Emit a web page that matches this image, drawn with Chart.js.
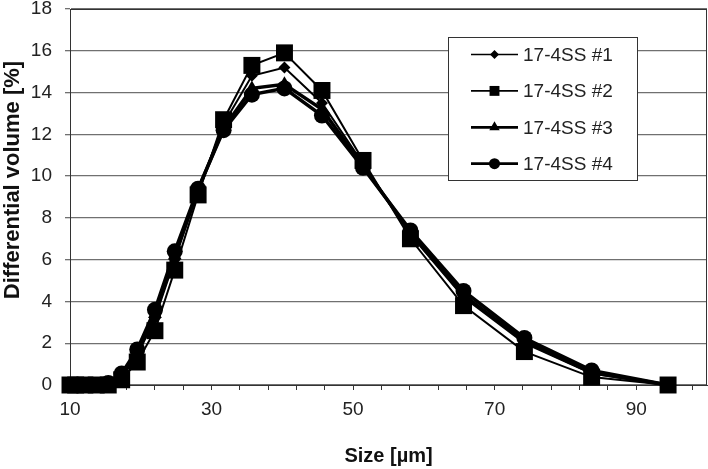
<!DOCTYPE html>
<html>
<head>
<meta charset="utf-8">
<script src="https://cdn.jsdelivr.net/npm/chart.js@4.4.1/dist/chart.umd.min.js"></script>
<style>
  html, body { margin: 0; padding: 0; background: #fff; }
  #wrap { width: 708px; height: 469px; }
</style>
</head>
<body>
<div id="wrap"><canvas id="psd" width="708" height="469"></canvas></div>
<script>
// Particle size distribution of four 17-4SS powder lots
const sizes = [10.0, 10.8, 12.1, 13.7, 15.4, 17.3, 19.5, 22.0, 24.8, 28.1, 31.7, 35.7, 40.3, 45.6, 51.4, 58.1, 65.6, 74.2, 83.7, 94.5];
const lot1 = [0, 0, 0, 0, 0.05, 0.40, 1.40, 3.20, 6.00, 9.30, 12.5, 14.8, 15.2, 13.5, 10.6, 7.20, 4.20, 2.00, 0.55, 0];
const lot2 = [0, 0, 0, 0, 0, 0.25, 1.10, 2.60, 5.50, 9.10, 12.7, 15.3, 15.9, 14.1, 10.75, 7.00, 3.80, 1.60, 0.38, 0];
const lot3 = [0, 0, 0, 0, 0.05, 0.45, 1.50, 3.40, 6.20, 9.35, 12.3, 14.2, 14.4, 13.2, 10.5, 7.30, 4.30, 2.10, 0.60, 0];
const lot4 = [0, 0, 0, 0, 0.10, 0.55, 1.70, 3.60, 6.40, 9.40, 12.2, 13.9, 14.2, 12.9, 10.4, 7.40, 4.50, 2.25, 0.70, 0];
const seriesNames = ['17-4SS #1', '17-4SS #2', '17-4SS #3', '17-4SS #4'];
const xTickValues = [10, 14, 18, 22, 26, 30, 34, 38, 42, 46, 50, 54, 58, 62, 66, 70, 74, 78, 82, 86, 90, 94, 98];
const xTickLabels = [10, 30, 50, 70, 90];
const yTitle = 'Differential volume [%]';

const FONT = "'Liberation Sans', Arial, sans-serif";

const styles = [
    { pointStyle: 'rectRot', radius: 6, lineWidth: 2, legendRadius: 4.5 },
    { pointStyle: 'rect', radius: 12, lineWidth: 2, legendRadius: 7 },
    { pointStyle: 'triangle', radius: 8, lineWidth: 3.5, legendRadius: 6 },
    { pointStyle: 'circle', radius: 8, lineWidth: 3.5, legendRadius: 5.5 }
];

const lots = [lot1, lot2, lot3, lot4];
const datasets = lots.map((vals, i) => ({
    label: seriesNames[i],
    data: vals.map((v, k) => ({ x: sizes[k], y: v })),
    borderColor: '#000',
    backgroundColor: '#000',
    borderWidth: styles[i].lineWidth,
    pointStyle: styles[i].pointStyle,
    pointRadius: styles[i].radius,
    pointBorderWidth: 0,
    tension: 0,
    clip: false,
    order: 4 - i
}));

function drawMarker(ctx, style, r, x, y) {
    ctx.beginPath();
    if (style === 'rect') {
        const s = r * Math.SQRT1_2;
        ctx.rect(x - s, y - s, 2 * s, 2 * s);
    } else if (style === 'rectRot') {
        ctx.moveTo(x, y - r); ctx.lineTo(x + r, y); ctx.lineTo(x, y + r); ctx.lineTo(x - r, y);
        ctx.closePath();
    } else if (style === 'triangle') {
        ctx.moveTo(x, y - r);
        ctx.lineTo(x + r * 0.866, y + r * 0.5);
        ctx.lineTo(x - r * 0.866, y + r * 0.5);
        ctx.closePath();
    } else {
        ctx.arc(x, y, r, 0, Math.PI * 2);
    }
    ctx.fill();
}

// plot frame (top + right edges) and the rotated y title, which sits a bit above centre
const framePlugin = {
    id: 'frame',
    beforeDatasetsDraw(chart) {
        const { ctx, chartArea: a } = chart;
        ctx.save();
        ctx.strokeStyle = '#333';
        ctx.lineWidth = 1;
        ctx.strokeRect(a.left + 0.5, a.top + 0.5, a.right - a.left - 1, a.bottom - a.top);
        ctx.translate(13, 180);
        ctx.rotate(-Math.PI / 2);
        ctx.font = 'bold 22px ' + FONT;
        ctx.fillStyle = '#111';
        ctx.textAlign = 'center';
        ctx.textBaseline = 'middle';
        ctx.fillText(yTitle, 0, 0);
        ctx.restore();
    }
};

const boxLegend = {
    id: 'boxLegend',
    afterDatasetsDraw(chart) {
        const ctx = chart.ctx;
        const bx = 448, by = 37, bw = 189, bh = 143, row = 36.4, first = 17.5;
        ctx.save();
        ctx.fillStyle = '#fff';
        ctx.fillRect(bx, by, bw, bh);
        ctx.strokeStyle = '#333';
        ctx.lineWidth = 1;
        ctx.strokeRect(bx + 0.5, by + 0.5, bw, bh);
        ctx.font = '19px ' + FONT;
        ctx.textBaseline = 'middle';
        seriesNames.forEach((name, i) => {
            const y = by + first + i * row;
            ctx.strokeStyle = '#000';
            ctx.fillStyle = '#000';
            ctx.lineWidth = styles[i].lineWidth === 2 ? 1.7 : 2.8;
            ctx.beginPath();
            ctx.moveTo(bx + 23, y);
            ctx.lineTo(bx + 70, y);
            ctx.stroke();
            drawMarker(ctx, styles[i].pointStyle, styles[i].legendRadius, bx + 46.5, y);
            ctx.fillStyle = '#222';
            ctx.fillText(name, bx + 75, y + 1);
        });
        ctx.restore();
    }
};

new Chart(document.getElementById('psd'), {
    type: 'line',
    data: { datasets: datasets },
    options: {
        responsive: false,
        animation: false,
        layout: { autoPadding: false, padding: { top: 9, right: 1, left: 0, bottom: 0 } },
        plugins: {
            legend: { display: false },
            tooltip: { enabled: false }
        },
        scales: {
            x: {
                type: 'linear',
                min: 10,
                max: 100,
                afterBuildTicks: s => { s.ticks = xTickValues.map(v => ({ value: v })); },
                afterFit: s => { s.height = 84; s.paddingLeft = 0; s.paddingRight = 0; },
                ticks: {
                    autoSkip: false,
                    maxRotation: 0,
                    color: '#222',
                    padding: 8,
                    font: { size: 19, family: FONT },
                    callback: v => xTickLabels.includes(v) ? String(v) : ''
                },
                grid: { drawOnChartArea: false, drawTicks: true, tickLength: 5, color: '#333' },
                border: { color: '#333', width: 1 },
                title: {
                    display: true,
                    text: 'Size [µm]',
                    color: '#111',
                    font: { size: 20, weight: 'bold', family: FONT },
                    padding: { top: 0, bottom: 1 }
                }
            },
            y: {
                min: 0,
                max: 18,
                afterFit: s => { s.width = 70; s.paddingTop = 0; s.paddingBottom = 0; },
                ticks: {
                    stepSize: 2,
                    color: '#222',
                    padding: 13,
                    font: { size: 19, family: FONT }
                },
                grid: { color: '#707070', lineWidth: 1.3, tickLength: 5 },
                border: { color: '#333', width: 1 }
            }
        }
    },
    plugins: [framePlugin, boxLegend]
});
</script>
</body>
</html>
